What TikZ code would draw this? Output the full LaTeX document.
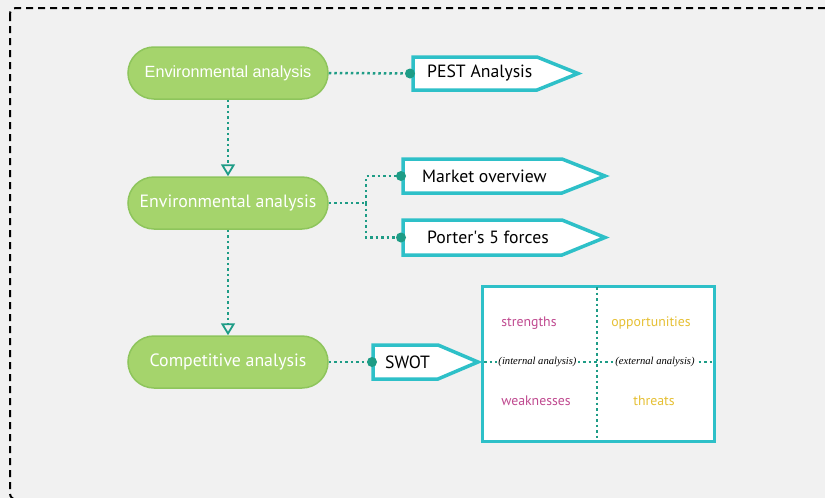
\documentclass[tikz,border=0pt]{standalone}
\usepackage{fontspec}
\setmainfont{PT Sans}
\newfontfamily\pillonefont{Liberation Sans}
\newfontfamily\analfont{Liberation Serif}
\usetikzlibrary{arrows.meta}
\definecolor{bgc}{HTML}{F1F1F1}
\definecolor{pillc}{HTML}{A5D46C}
\definecolor{pillb}{HTML}{8EC55C}
\definecolor{tealc}{HTML}{1E9C86}
\definecolor{cyanb}{HTML}{2EC0C8}
\definecolor{magc}{HTML}{C04A90}
\definecolor{yelc}{HTML}{E6C034}
\begin{document}
\begin{tikzpicture}[x=1pt,y=-1pt,
  pill/.style={rectangle, rounded corners=26pt, minimum width=200pt, minimum height=52pt,
     fill=pillc, draw=pillb, line width=1.5pt, text=white, font=\fontsize{17.8}{20}\selectfont},
  dotline/.style={tealc, line width=2.5pt, dash pattern=on 2.5pt off 3pt},
  flowarrow/.style={dotline, -{Triangle[open,length=12pt,width=14pt,line width=1.8pt]}},
  tagtext/.style={font=\fontsize{17.7}{20}\selectfont, text=black, anchor=west, inner sep=0pt},
  tagbox/.style={draw=cyanb, fill=white, line width=3.5pt, line join=miter},
  quad/.style={font=\fontsize{13.8}{16}\selectfont},
  anal/.style={font=\analfont\fontsize{10.6}{12}\selectfont\itshape, fill=white, inner sep=1pt},
  enddot/.style={fill=tealc, draw=none}]
\useasboundingbox (0,0) rectangle (825,498);
\fill[bgc] (0,0) rectangle (825,498);
\begin{scope}
\clip (0,0) rectangle (825,498);
\draw[black, line width=2pt, dash pattern=on 7pt off 5pt, rounded corners=6pt] (10,8) rectangle (833,499.5);
\end{scope}

% pills
\node[pill, font=\pillonefont\fontsize{16.2}{18}\selectfont] (p1) at (228,73) {Environmental analysis};
\node[pill] (p2) at (228,203) {Environmental analysis};
\node[pill] (p3) at (228,362) {Competitive analysis};

\draw[flowarrow] (p1.south) -- (p2.north);
\draw[flowarrow] (p2.south) -- (p3.north);

% tags
\draw[tagbox] (413,57) -- (537,57) -- (578,73.5) -- (537,90) -- (413,90) -- cycle;
\node[tagtext] (pest) at (427,73.5) {PEST Analysis};
\draw[tagbox] (403,159) -- (562,159) -- (605,176) -- (562,193) -- (403,193) -- cycle;
\node[tagtext] (mkt) at (422,176) {Market overview};
\draw[tagbox] (403,220) -- (562,220) -- (605,237.5) -- (562,255) -- (403,255) -- cycle;
\node[tagtext] (port) at (427,237.5) {Porter\textquotesingle s 5 forces};
\draw[tagbox] (373,345) -- (438,345) -- (478,362) -- (438,379) -- (373,379) -- cycle;
\node[tagtext] (swot) at (385,362) {SWOT};

\coordinate (d1) at (410,73.5);
\coordinate (d2) at (401,176);
\coordinate (d3) at (401,237.5);
\coordinate (d4) at (372,362);
\coordinate (br) at (366,203);

\draw[dotline] (p1.east) -- (d1);
\draw[dotline] (p2.east) -- (br);
\draw[dotline] (br) |- (d2);
\draw[dotline] (br) |- (d3);
\draw[dotline] (p3.east) -- (d4);
\foreach \d in {d1,d2,d3,d4} \fill[enddot] (\d) circle (5pt);

% SWOT matrix
\node[draw=cyanb, fill=white, line width=3pt, minimum width=232pt, minimum height=155pt, anchor=north west] (mat) at (481,285) {};
\coordinate (ml) at (484,362);
\coordinate (mr) at (713,362);
\coordinate (mt) at (597,287);
\coordinate (mb) at (597,438);
\draw[dotline] (mt) -- (mb);
\draw[dotline] (ml) -- (mr);
\node[anal] (ia) at (537.5,362) {(internal analysis)};
\node[anal] (ea) at (655,362) {(external analysis)};
\node[quad, text=magc] (s) at (529,323) {strengths};
\node[quad, text=yelc] (o) at (651,323) {opportunities};
\node[quad, text=magc] (w) at (536,401) {weaknesses};
\node[quad, text=yelc] (t) at (654,401) {threats};
\end{tikzpicture}
\end{document}
